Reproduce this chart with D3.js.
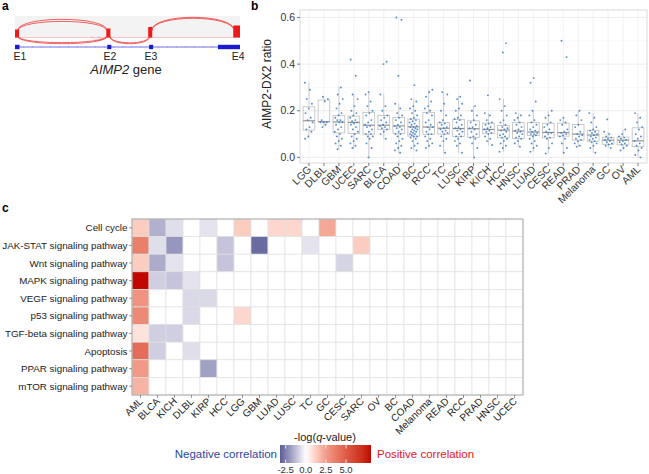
<!DOCTYPE html>
<html><head><meta charset="utf-8">
<script src="https://cdn.jsdelivr.net/npm/d3@7"></script>
<style>body{margin:0;background:#fff} svg{font-family:Arial,"Liberation Sans",Helvetica,sans-serif}</style>
</head><body><svg id="fig" width="649" height="474"></svg>
<script>
// ---------------- Panel a : sashimi plot ----------------
const exonNames = ["E1","E2","E3","E4"];
const exonStart = [0, 41.0, 59.6, 90.2];
const exonEnd   = [2.0, 42.8, 61.4, 100];
const exonLabelPos = [2.2, 42.2, 60.4, 99.2];
const coverageStart = [0, 40.6, 59.2, 97.0];
const coverageEnd   = [1.8, 42.4, 61.0, 100];
const coverageDepth = [8, 9, 10.5, 12];
const juncStart = [1.0, 1.2, 1.0, 1.2, 42.0, 42.2, 60.6, 60.8, 34.0, 37.0];
const juncEnd   = [41.0, 40.8, 41.0, 40.8, 60.0, 59.8, 97.6, 97.4, 41.0, 41.0];
const juncReads = [11.7, 9.6, 7.7, 6.6, 7.7, 6.8, 13.7, 12.7, 4.0, 2.5];
const juncSide  = [1, 1, -1, -1, -1, -1, 1, 1, -1, -1];

// ---------------- Panel b : AIMP2-DX2 ratio ----------------
const cancers = ["LGG","DLBL","GBM","UCEC","SARC","BLCA","COAD","BC","RCC","TC","LUSC","KIRP","KICH","HCC","HNSC","LUAD","CESC","READ","PRAD","Melanoma","GC","OV","AML"];
const boxQ1  = [0.117,0.153,0.105,0.103,0.100,0.120,0.103,0.091,0.099,0.100,0.090,0.086,0.103,0.084,0.081,0.094,0.084,0.091,0.074,0.069,0.056,0.054,0.046];
const boxMed = [0.157,0.153,0.152,0.150,0.138,0.138,0.135,0.131,0.130,0.125,0.124,0.123,0.120,0.117,0.113,0.109,0.107,0.106,0.100,0.096,0.074,0.074,0.071];
const boxQ3  = [0.217,0.246,0.180,0.177,0.193,0.180,0.171,0.164,0.193,0.149,0.163,0.157,0.147,0.137,0.149,0.150,0.146,0.147,0.141,0.116,0.086,0.087,0.127];
const whiskLo = [0.080,0.130,0.035,0.035,0.000,0.080,0.020,0.030,0.040,0.020,0.020,0.000,0.053,0.024,0.046,0.024,0.017,0.020,0.046,0.020,0.040,0.030,0.000];
const whiskHi = [0.320,0.260,0.305,0.270,0.280,0.270,0.230,0.250,0.290,0.280,0.263,0.220,0.190,0.250,0.190,0.200,0.200,0.170,0.200,0.190,0.110,0.120,0.190];
const ratioPoints = [
 [0.32,0.29,0.25,0.23,0.21,0.19,0.17,0.16,0.15,0.13,0.12,0.11,0.09,0.08],
 [0.26,0.25,0.24,0.16,0.15,0.15,0.15,0.14,0.13],
 [0.30,0.27,0.25,0.23,0.21,0.19,0.18,0.17,0.16,0.16,0.15,0.15,0.14,0.13,0.12,0.11,0.10,0.09,0.08,0.07,0.06,0.05,0.035],
 [0.42,0.35,0.27,0.25,0.22,0.20,0.19,0.18,0.17,0.16,0.155,0.15,0.145,0.14,0.13,0.12,0.11,0.10,0.09,0.08,0.07,0.06,0.05,0.04],
 [0.28,0.27,0.24,0.22,0.20,0.19,0.18,0.16,0.15,0.14,0.135,0.13,0.12,0.11,0.10,0.10,0.09,0.09,0.08,0.06,0.04,0.0],
 [0.41,0.40,0.27,0.22,0.20,0.18,0.17,0.16,0.15,0.14,0.135,0.13,0.125,0.12,0.11,0.10,0.08],
 [0.60,0.59,0.35,0.23,0.21,0.19,0.18,0.17,0.16,0.15,0.14,0.135,0.13,0.125,0.12,0.11,0.10,0.10,0.09,0.08,0.07,0.06,0.05,0.04,0.03,0.02],
 [0.31,0.25,0.24,0.22,0.21,0.20,0.19,0.18,0.17,0.165,0.16,0.155,0.15,0.145,0.14,0.135,0.13,0.13,0.125,0.12,0.12,0.115,0.11,0.11,0.105,0.10,0.10,0.095,0.09,0.09,0.085,0.08,0.07,0.06,0.05,0.04,0.03],
 [0.29,0.28,0.26,0.24,0.22,0.21,0.20,0.19,0.18,0.16,0.15,0.14,0.13,0.13,0.12,0.11,0.10,0.10,0.09,0.08,0.07,0.06,0.05,0.04],
 [0.28,0.27,0.23,0.20,0.18,0.16,0.15,0.145,0.14,0.13,0.125,0.12,0.115,0.11,0.105,0.10,0.09,0.08,0.07,0.05,0.02],
 [0.26,0.25,0.23,0.21,0.20,0.18,0.17,0.165,0.16,0.15,0.14,0.13,0.125,0.12,0.115,0.11,0.10,0.09,0.09,0.08,0.07,0.06,0.05,0.02],
 [0.33,0.22,0.20,0.18,0.16,0.15,0.14,0.13,0.125,0.12,0.11,0.10,0.09,0.085,0.08,0.06,0.04,0.0],
 [0.266,0.19,0.18,0.16,0.15,0.145,0.14,0.13,0.125,0.12,0.115,0.11,0.105,0.10,0.09,0.08,0.07,0.053],
 [0.49,0.45,0.25,0.22,0.20,0.18,0.16,0.15,0.14,0.13,0.125,0.12,0.115,0.11,0.10,0.095,0.09,0.085,0.08,0.07,0.06,0.05,0.04,0.024],
 [0.19,0.18,0.17,0.16,0.15,0.14,0.13,0.12,0.115,0.11,0.105,0.10,0.09,0.085,0.08,0.07,0.06,0.046],
 [0.34,0.32,0.24,0.20,0.18,0.16,0.15,0.14,0.13,0.12,0.115,0.11,0.105,0.10,0.10,0.095,0.09,0.08,0.07,0.06,0.05,0.04,0.024],
 [0.20,0.18,0.17,0.15,0.14,0.13,0.12,0.11,0.105,0.10,0.09,0.085,0.08,0.06,0.04,0.017],
 [0.50,0.43,0.17,0.16,0.15,0.14,0.12,0.11,0.105,0.10,0.095,0.09,0.08,0.06,0.04,0.02],
 [0.20,0.18,0.16,0.14,0.13,0.11,0.10,0.095,0.09,0.08,0.075,0.07,0.06,0.05,0.046],
 [0.19,0.17,0.15,0.13,0.12,0.115,0.11,0.105,0.10,0.095,0.09,0.085,0.08,0.075,0.07,0.065,0.06,0.05,0.04,0.02],
 [0.163,0.11,0.10,0.09,0.085,0.08,0.075,0.07,0.065,0.06,0.055,0.05,0.04],
 [0.12,0.10,0.09,0.085,0.08,0.075,0.07,0.065,0.06,0.055,0.05,0.04,0.03],
 [0.19,0.17,0.15,0.13,0.12,0.10,0.09,0.08,0.07,0.06,0.05,0.04,0.03,0.01,0.0]
];
const ratioTicks = [0.0, 0.2, 0.4, 0.6];

// ---------------- Panel c : pathway heatmap ----------------
const hmCancers = ["AML","BLCA","KICH","DLBL","KIRP","HCC","LGG","GBM","LUAD","LUSC","TC","GC","CESC","SARC","OV","BC","COAD","Melanoma","READ","RCC","PRAD","HNSC","UCEC"];
const pathways = ["Cell cycle","JAK-STAT signaling pathway","Wnt signaling pathway","MAPK signaling pathway","VEGF signaling pathway","p53 signaling pathway","TGF-beta signaling pathway","Apoptosis","PPAR signaling pathway","mTOR signaling pathway"];
const hmCellCycle = [1.3,-1.5,-0.6,0,-0.5,0,1.3,0,1.0,1.0,0,2.2,0,0,0,0,0,0,0,0,0,0,0];
const hmJakStat   = [3.6,-0.6,-2.0,0,0,-1.1,0,-2.9,0,0,-0.5,0,0,1.3,0,0,0,0,0,0,0,0,0];
const hmWnt       = [1.3,-1.6,-0.5,0,0,-1.1,0,0,0,0,0,0,-0.8,0,0,0,0,0,0,0,0,0,0];
const hmMapk      = [8.0,-0.9,-1.1,-0.5,0,0,0,0,0,0,0,0,0,0,0,0,0,0,0,0,0,0,0];
const hmVegf      = [2.8,0,0,-0.7,-0.7,0,0,0,0,0,0,0,0,0,0,0,0,0,0,0,0,0,0];
const hmP53       = [3.2,0,0,-0.7,0,0,1.0,0,0,0,0,0,0,0,0,0,0,0,0,0,0,0,0];
const hmTgfb      = [0.7,-0.9,-0.9,0,0,0,0,0,0,0,0,0,0,0,0,0,0,0,0,0,0,0,0];
const hmApoptosis = [4.3,-0.9,0,-0.6,0,0,0,0,0,0,0,0,0,0,0,0,0,0,0,0,0,0,0];
const hmPpar      = [2.6,0,0,0,-1.8,0,0,0,0,0,0,0,0,0,0,0,0,0,0,0,0,0,0];
const hmMtor      = [1.9,0,0,0,0,0,0,0,0,0,0,0,0,0,0,0,0,0,0,0,0,0,0];
const legendTicks = [-2.5, 0.0, 2.5, 5.0];

// =======================================================
const svg = d3.select("#fig");

function panelLabel(t, x, y) {
  svg.append("text").attr("x", x).attr("y", y).attr("font-size", 12).attr("font-weight", "bold").text(t);
}
panelLabel("a", 2, 10);
panelLabel("b", 251, 10);
panelLabel("c", 2, 212);

// ---------- Panel a ----------
const gx = d3.scaleLinear().domain([0, 100]).range([15, 240]);
const covY = d3.scaleLinear().domain([0, 20]).range([37.5, 17.5]);
const gA = svg.append("g");
gA.append("rect").attr("x", gx(0)).attr("y", covY(20) - 1.5).attr("width", gx(100) - gx(0)).attr("height", covY(0) - covY(20) + 1.5).attr("fill", "#f3f3f3");
gA.append("line").attr("x1", gx(0)).attr("x2", gx(100)).attr("y1", covY(0)).attr("y2", covY(0)).attr("stroke", "#f2a0a0").attr("stroke-width", 0.6);
coverageStart.forEach((s, i) => {
  gA.append("rect").attr("x", gx(s)).attr("width", gx(coverageEnd[i]) - gx(s)).attr("y", covY(coverageDepth[i])).attr("height", covY(0) - covY(coverageDepth[i])).attr("fill", "#f01818");
});
const arcH = d3.scaleLinear().domain([0, 15]).range([0, 15]);
juncStart.forEach((s, i) => {
  const x1 = gx(s), x2 = gx(juncEnd[i]);
  const side = juncSide[i];
  const y0 = side > 0 ? covY(6.5) : covY(1.5);
  const yc = y0 - side * arcH(juncReads[i]) / 0.75;
  gA.append("path").attr("d", `M${x1},${y0} C${x1},${yc} ${x2},${yc} ${x2},${y0}`)
    .attr("fill", "none").attr("stroke", "#f03030").attr("stroke-width", i > 7 ? 0.45 : 0.8).attr("stroke-opacity", i > 7 ? 0.55 : 0.95);
});
// gene model
const geneY = 47;
gA.append("line").attr("x1", gx(0)).attr("x2", gx(100)).attr("y1", geneY).attr("y2", geneY).attr("stroke", "#3030e0").attr("stroke-width", 0.7);
d3.range(4, 90, 4).forEach(p => {
  gA.append("path").attr("d", `M${gx(p) - 1},${geneY - 1.2} L${gx(p)},${geneY} L${gx(p) - 1},${geneY + 1.2}`).attr("fill", "none").attr("stroke", "#8080f0").attr("stroke-width", 0.4);
});
exonStart.forEach((s, i) => {
  gA.append("rect").attr("x", gx(s)).attr("width", gx(exonEnd[i]) - gx(s)).attr("y", geneY - 2.2).attr("height", 4.4).attr("fill", "#1a1ad0");
});
exonNames.forEach((n, i) => {
  gA.append("text").attr("x", gx(exonLabelPos[i])).attr("y", 60).attr("text-anchor", "middle").attr("font-size", 10.5).attr("fill", "#222").text(n);
});
const gt = gA.append("text").attr("x", 126).attr("y", 74).attr("text-anchor", "middle").attr("font-size", 13).attr("fill", "#222");
gt.append("tspan").attr("font-style", "italic").text("AIMP2");
gt.append("tspan").text(" gene");

// ---------- Panel b ----------
const bx = d3.scalePoint().domain(cancers).range([300, 647]).padding(0.6);
const by = d3.scaleLinear().domain([-0.024, 0.632]).range([163, 10]);
const gB = svg.append("g");
const step = bx.step();
[0.1, 0.3, 0.5].forEach(v => gB.append("line").attr("x1", 300).attr("x2", 647).attr("y1", by(v)).attr("y2", by(v)).attr("stroke", "#f3f3f3").attr("stroke-width", 0.6));
ratioTicks.forEach(v => gB.append("line").attr("x1", 300).attr("x2", 647).attr("y1", by(v)).attr("y2", by(v)).attr("stroke", "#e8e8e8").attr("stroke-width", 0.8));
cancers.forEach(c => gB.append("line").attr("x1", bx(c)).attr("x2", bx(c)).attr("y1", 10).attr("y2", 163).attr("stroke", "#eeeeee").attr("stroke-width", 0.8));
gB.append("rect").attr("x", 300).attr("y", 10).attr("width", 347).attr("height", 153).attr("fill", "none").attr("stroke", "#d6d6d6").attr("stroke-width", 0.9);
const bw = step * 0.78;
cancers.forEach((c, i) => {
  const x = bx(c);
  gB.append("line").attr("x1", x).attr("x2", x).attr("y1", by(whiskHi[i])).attr("y2", by(boxQ3[i])).attr("stroke", "#c4c4c4").attr("stroke-width", 0.8);
  gB.append("line").attr("x1", x).attr("x2", x).attr("y1", by(boxQ1[i])).attr("y2", by(whiskLo[i])).attr("stroke", "#c4c4c4").attr("stroke-width", 0.8);
  gB.append("rect").attr("x", x - bw / 2).attr("width", bw).attr("y", by(boxQ3[i])).attr("height", by(boxQ1[i]) - by(boxQ3[i])).attr("fill", "none").attr("stroke", "#c4c4c4").attr("stroke-width", 0.9);
  gB.append("line").attr("x1", x - bw / 2).attr("x2", x + bw / 2).attr("y1", by(boxMed[i])).attr("y2", by(boxMed[i])).attr("stroke", "#8a8a8a").attr("stroke-width", 1.1);
});
cancers.forEach((c, i) => {
  ratioPoints[i].forEach((v, j) => {
    const off = (((j * 0.618034 + i * 0.37) % 1) - 0.5) * step * 0.55;
    gB.append("circle").attr("cx", bx(c) + off).attr("cy", by(v)).attr("r", 0.95).attr("fill", "#3f80c8").attr("fill-opacity", 0.9);
  });
});
ratioTicks.forEach(v => {
  gB.append("line").attr("x1", 297).attr("x2", 300).attr("y1", by(v)).attr("y2", by(v)).attr("stroke", "#444").attr("stroke-width", 0.7);
  gB.append("text").attr("x", 295).attr("y", by(v) + 3.7).attr("text-anchor", "end").attr("font-size", 10.5).attr("fill", "#333").text(v.toFixed(1));
});
gB.append("text").attr("transform", "translate(271,84) rotate(-90)").attr("text-anchor", "middle").attr("font-size", 12).attr("fill", "#222").text("AIMP2-DX2 ratio");
cancers.forEach(c => {
  gB.append("line").attr("x1", bx(c)).attr("x2", bx(c)).attr("y1", 163).attr("y2", 166).attr("stroke", "#444").attr("stroke-width", 0.7);
  gB.append("text").attr("transform", `translate(${bx(c) + 3},${170}) rotate(-45)`).attr("text-anchor", "end").attr("font-size", 10.3).attr("fill", "#333").text(c);
});

// ---------- Panel c ----------
const hmRows = [hmCellCycle, hmJakStat, hmWnt, hmMapk, hmVegf, hmP53, hmTgfb, hmApoptosis, hmPpar, hmMtor];
const cx = d3.scaleBand().domain(hmCancers).range([132, 523]);
const cy = d3.scaleBand().domain(pathways).range([219, 395]);
const color = d3.scaleLinear().domain([-3.2, 0, 2.5, 5, 8.1])
  .range(["#5b5e96", "#ffffff", "#f19c89", "#de5a47", "#c00000"]).interpolate(d3.interpolateLab).clamp(true);
const gC = svg.append("g");
pathways.forEach((p, r) => {
  hmCancers.forEach((c, k) => {
    gC.append("rect").attr("x", cx(c)).attr("y", cy(p)).attr("width", cx.bandwidth()).attr("height", cy.bandwidth())
      .attr("fill", color(hmRows[r][k])).attr("stroke", "#e0e0e0").attr("stroke-width", 0.7);
  });
});
gC.append("rect").attr("x", 132).attr("y", 219).attr("width", 391).attr("height", 176).attr("fill", "none").attr("stroke", "#a8a8a8").attr("stroke-width", 1);
pathways.forEach(p => {
  gC.append("line").attr("x1", 129).attr("x2", 132).attr("y1", cy(p) + cy.bandwidth() / 2).attr("y2", cy(p) + cy.bandwidth() / 2).attr("stroke", "#555").attr("stroke-width", 0.6);
  gC.append("text").attr("x", 127.5).attr("y", cy(p) + cy.bandwidth() / 2 + 3.6).attr("text-anchor", "end").attr("font-size", 9.8).attr("fill", "#222").text(p);
});
hmCancers.forEach(c => {
  const x = cx(c) + cx.bandwidth() / 2;
  gC.append("line").attr("x1", x).attr("x2", x).attr("y1", 395).attr("y2", 398).attr("stroke", "#555").attr("stroke-width", 0.6);
  gC.append("text").attr("transform", `translate(${x + 3},${402}) rotate(-45)`).attr("text-anchor", "end").attr("font-size", 10).attr("fill", "#222").text(c);
});
// legend
const lx = d3.scaleLinear().domain([-3.2, 8.1]).range([280, 371]);
const defs = svg.append("defs");
const grad = defs.append("linearGradient").attr("id", "lg").attr("x1", "0%").attr("x2", "100%");
d3.range(0, 1.0001, 0.025).forEach(t => {
  grad.append("stop").attr("offset", (t * 100) + "%").attr("stop-color", color(lx.invert(280 + t * 91)));
});
gC.append("rect").attr("x", 280).attr("y", 445).attr("width", 91).attr("height", 18).attr("fill", "url(#lg)");
legendTicks.forEach(v => {
  gC.append("line").attr("x1", lx(v)).attr("x2", lx(v)).attr("y1", 445).attr("y2", 448.5).attr("stroke", "#fff").attr("stroke-width", 0.8);
  gC.append("line").attr("x1", lx(v)).attr("x2", lx(v)).attr("y1", 459.5).attr("y2", 463).attr("stroke", "#fff").attr("stroke-width", 0.8);
  gC.append("text").attr("x", lx(v)).attr("y", 473).attr("text-anchor", "middle").attr("font-size", 9.5).attr("fill", "#333").text(v.toFixed(1));
});
const lt = gC.append("text").attr("x", 325).attr("y", 441).attr("text-anchor", "middle").attr("font-size", 11).attr("fill", "#222");
lt.append("tspan").text("-log(");
lt.append("tspan").attr("font-style", "italic").text("q");
lt.append("tspan").text("-value)");
gC.append("text").attr("x", 277).attr("y", 458).attr("text-anchor", "end").attr("font-size", 11.5).attr("fill", "#2b45a0").text("Negative correlation");
gC.append("text").attr("x", 377).attr("y", 458).attr("text-anchor", "start").attr("font-size", 11.5).attr("fill", "#e4161e").text("Positive correlation");
</script></body></html>
